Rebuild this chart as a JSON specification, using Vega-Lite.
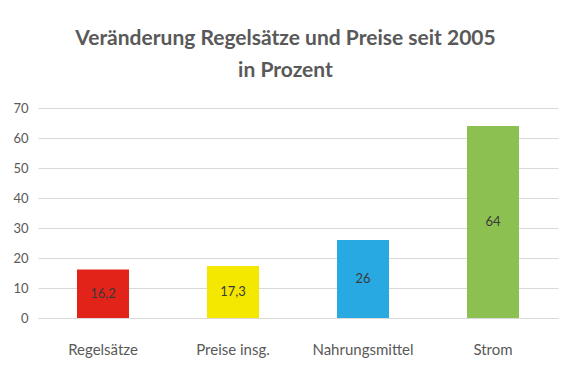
{
  "$schema": "https://vega.github.io/schema/vega-lite/v6.json",
  "width": 520,
  "height": 210,
  "padding": {"left": 12, "top": 28, "right": 18, "bottom": 6},
  "background": "white",
  "title": {
    "text": ["Veränderung Regelsätze und Preise seit 2005", "in Prozent"],
    "font": "Lato",
    "fontSize": 21,
    "fontWeight": "bold",
    "color": "#595959",
    "lineHeight": 32,
    "anchor": "middle",
    "frame": "bounds",
    "offset": 21
  },
  "data": {
    "values": [
      {"kategorie": "Regelsätze", "wert": 16.2, "label": "16,2"},
      {"kategorie": "Preise insg.", "wert": 17.3, "label": "17,3"},
      {"kategorie": "Nahrungsmittel", "wert": 26, "label": "26"},
      {"kategorie": "Strom", "wert": 64, "label": "64"}
    ]
  },
  "encoding": {
    "x": {
      "field": "kategorie",
      "type": "nominal",
      "sort": null,
      "scale": {"paddingInner": 0.6, "paddingOuter": 0.3},
      "axis": {
        "title": null,
        "labelAngle": 0,
        "labelFont": "Lato",
        "labelFontSize": 15,
        "labelColor": "#595959",
        "labelPadding": 24,
        "ticks": false,
        "domainColor": "#d9d9d9"
      }
    }
  },
  "layer": [
    {
      "mark": {"type": "bar"},
      "encoding": {
        "y": {
          "field": "wert",
          "type": "quantitative",
          "scale": {"domain": [0, 70]},
          "axis": {
            "title": null,
            "values": [0, 10, 20, 30, 40, 50, 60, 70],
            "labelFont": "Lato",
            "labelFontSize": 13,
            "labelColor": "#595959",
            "labelPadding": 10,
            "ticks": false,
            "domain": false,
            "gridColor": "#d9d9d9"
          }
        },
        "color": {
          "field": "kategorie",
          "type": "nominal",
          "sort": null,
          "scale": {
            "domain": ["Regelsätze", "Preise insg.", "Nahrungsmittel", "Strom"],
            "range": ["#e2231a", "#f4e800", "#29a9e1", "#8cc152"]
          },
          "legend": null
        }
      }
    },
    {
      "mark": {"type": "text", "font": "Lato", "fontSize": 13, "color": "#3a3a3a", "baseline": "middle"},
      "encoding": {
        "y": {
          "field": "wert",
          "type": "quantitative",
          "scale": {"domain": [0, 140]},
          "axis": null
        },
        "text": {"field": "label"}
      }
    }
  ],
  "resolve": {"scale": {"y": "independent"}},
  "config": {"view": {"stroke": null}}
}
